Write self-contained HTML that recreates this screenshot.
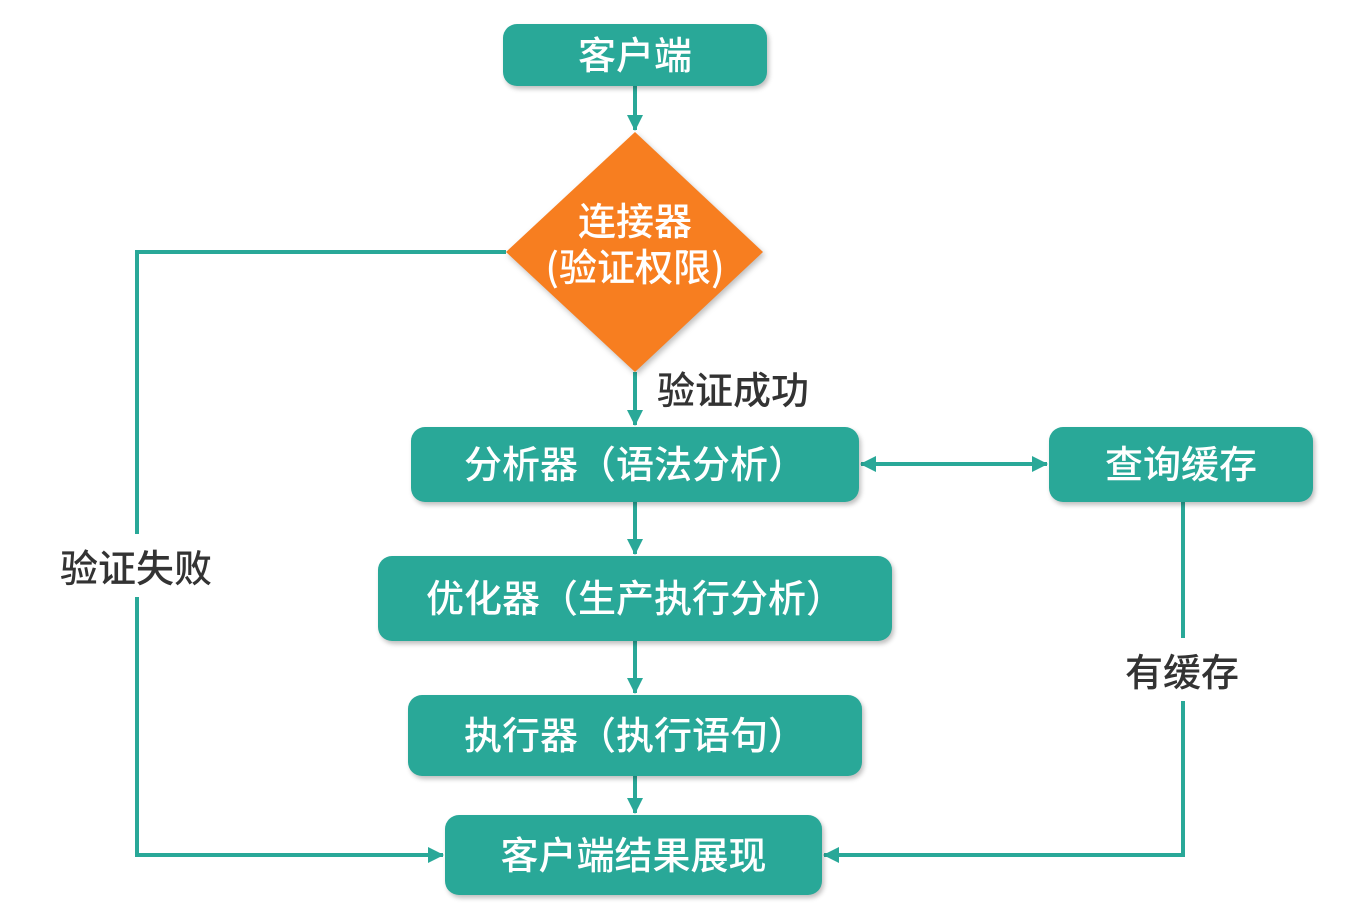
<!DOCTYPE html>
<html><head><meta charset="utf-8"><style>
body{margin:0;width:1351px;height:923px;background:#fff;overflow:hidden;font-family:"Liberation Sans","Noto Sans CJK SC",sans-serif}
.b{position:absolute;box-sizing:border-box;padding-bottom:6px;background:#29a898;border-radius:14px;color:#fff;font-size:38px;font-weight:500;display:flex;align-items:center;justify-content:center;box-shadow:2px 3px 5px rgba(0,0,0,.25);white-space:nowrap}
.l{position:absolute;color:#333;font-size:38px;font-weight:500;background:#fff;white-space:nowrap}
</style></head><body>
<svg width="1351" height="923" style="position:absolute;left:0;top:0">
<defs>
<marker id="a2" markerWidth="16" markerHeight="16" refX="15" refY="8" orient="auto" markerUnits="userSpaceOnUse"><path d="M0,0 L16,8 L0,16 z" fill="#29a898"/></marker></defs>
<g stroke="#29a898" stroke-width="4" fill="none">
<line x1="635" y1="86" x2="635" y2="130" marker-end="url(#a2)"/>
<line x1="635" y1="372" x2="635" y2="425" marker-end="url(#a2)"/>
<line x1="635" y1="502" x2="635" y2="554" marker-end="url(#a2)"/>
<line x1="635" y1="641" x2="635" y2="693" marker-end="url(#a2)"/>
<line x1="635" y1="776" x2="635" y2="813" marker-end="url(#a2)"/>
<polyline points="506,252 137,252 137,855 443,855" marker-end="url(#a2)"/>
<polyline points="1183,502 1183,855 824,855" marker-end="url(#a2)"/>
<line x1="880" y1="464" x2="1047" y2="464" marker-end="url(#a2)"/>
<line x1="1000" y1="464" x2="861" y2="464" marker-end="url(#a2)"/>
</g>
<polygon points="635,132 763,252 635,372 506,252" fill="#f77e20" style="filter:drop-shadow(2px 3px 3px rgba(0,0,0,.25))"/>
<text x="635" y="235" fill="#fff" font-size="38" font-weight="500" text-anchor="middle" font-family="Liberation Sans, Noto Sans CJK SC, sans-serif">连接器</text>
<text x="635" y="281" fill="#fff" font-size="38" font-weight="500" text-anchor="middle" font-family="Noto Sans CJK SC, sans-serif">(验证权限)</text>
</svg>
<div class="b" style="left:503px;top:24px;width:264px;height:62px">客户端</div>
<div class="b" style="left:411px;top:427px;width:448px;height:75px">分析器（语法分析）</div>
<div class="b" style="left:1049px;top:427px;width:264px;height:75px">查询缓存</div>
<div class="b" style="left:378px;top:556px;width:514px;height:85px">优化器（生产执行分析）</div>
<div class="b" style="left:408px;top:695px;width:454px;height:81px">执行器（执行语句）</div>
<div class="b" style="left:445px;top:815px;width:377px;height:80px">客户端结果展现</div>
<div class="l" style="left:657px;top:360px;background:none">验证成功</div>
<div class="l" style="left:60px;top:534px;padding:4px 0">验证失败</div>
<div class="l" style="left:1125px;top:638px;padding:4px 0">有缓存</div>
</body></html>
